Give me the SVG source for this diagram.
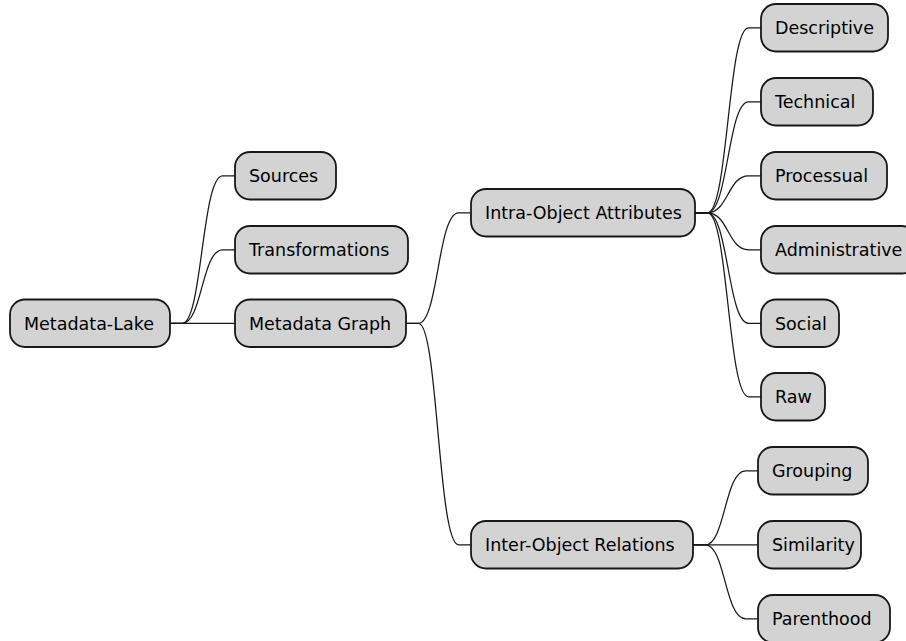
<svg xmlns="http://www.w3.org/2000/svg" width="906" height="641" viewBox="0 0 906 641">
<style>
.n rect{fill:#D3D3D3;stroke:#181818;stroke-width:1.8}
.n text{font-family:"DejaVu Sans",sans-serif;font-size:17.5px;fill:#000}
.c path{fill:none;stroke:#181818;stroke-width:1.25}
</style>
<rect width="906" height="641" fill="#FFFFFF"/>
<g class="c">
<path d="M170,323.25 L182.5,323.25 C202,323.25 202,175.75 222.5,175.75 L235,175.75"/>
<path d="M170,323.25 L182.5,323.25 C202,323.25 202,249.75 222.5,249.75 L235,249.75"/>
<path d="M170,323.25 L235,323.25"/>
<path d="M406,323.25 L418.5,323.25 C438,323.25 438,212.75 458.5,212.75 L471,212.75"/>
<path d="M406,323.25 L418.5,323.25 C438,323.25 438,544.75 458.5,544.75 L471,544.75"/>
<path d="M695,212.75 L707.5,212.75 C728,212.75 728,27.75 748.5,27.75 L761,27.75"/>
<path d="M695,212.75 L707.5,212.75 C728,212.75 728,101.75 748.5,101.75 L761,101.75"/>
<path d="M695,212.75 L707.5,212.75 C728,212.75 728,175.75 748.5,175.75 L761,175.75"/>
<path d="M695,212.75 L707.5,212.75 C728,212.75 728,249.75 748.5,249.75 L761,249.75"/>
<path d="M695,212.75 L707.5,212.75 C728,212.75 728,323.25 748.5,323.25 L761,323.25"/>
<path d="M695,212.75 L707.5,212.75 C728,212.75 728,396.75 748.5,396.75 L761,396.75"/>
<path d="M693,544.75 L705.5,544.75 C725,544.75 725,470.75 745.5,470.75 L758,470.75"/>
<path d="M693,544.75 L758,544.75"/>
<path d="M693,544.75 L705.5,544.75 C725,544.75 725,618.75 745.5,618.75 L758,618.75"/>
</g>
<g id="n-metadata-lake" class="n"><rect x="10" y="299.5" width="160" height="47.5" rx="15"/><text x="24" y="329.6">Metadata-Lake</text></g>
<g id="n-sources" class="n"><rect x="235" y="152" width="101" height="47.5" rx="15"/><text x="249" y="182.1">Sources</text></g>
<g id="n-transformations" class="n"><rect x="235" y="226" width="173" height="47.5" rx="15"/><text x="249" y="256.1">Transformations</text></g>
<g id="n-metadata-graph" class="n"><rect x="235" y="299.5" width="171" height="47.5" rx="15"/><text x="249" y="329.6">Metadata Graph</text></g>
<g id="n-intra" class="n"><rect x="471" y="189" width="224" height="47.5" rx="15"/><text x="485" y="219.1">Intra-Object Attributes</text></g>
<g id="n-inter" class="n"><rect x="471" y="521" width="222" height="47.5" rx="15"/><text x="485" y="551.1">Inter-Object Relations</text></g>
<g id="n-descriptive" class="n"><rect x="761" y="4" width="127" height="47.5" rx="15"/><text x="775" y="34.1">Descriptive</text></g>
<g id="n-technical" class="n"><rect x="761" y="78" width="112" height="47.5" rx="15"/><text x="775" y="108.1">Technical</text></g>
<g id="n-processual" class="n"><rect x="761" y="152" width="126" height="47.5" rx="15"/><text x="775" y="182.1">Processual</text></g>
<g id="n-administrative" class="n"><rect x="761" y="226" width="156" height="47.5" rx="15"/><text x="775" y="256.1">Administrative</text></g>
<g id="n-social" class="n"><rect x="761" y="299.5" width="78" height="47.5" rx="15"/><text x="775" y="329.6">Social</text></g>
<g id="n-raw" class="n"><rect x="761" y="373" width="64" height="47.5" rx="15"/><text x="775" y="403.1">Raw</text></g>
<g id="n-grouping" class="n"><rect x="758" y="447" width="110" height="47.5" rx="15"/><text x="772" y="477.1">Grouping</text></g>
<g id="n-similarity" class="n"><rect x="758" y="521" width="103" height="47.5" rx="15"/><text x="772" y="551.1">Similarity</text></g>
<g id="n-parenthood" class="n"><rect x="758" y="595" width="132" height="47.5" rx="15"/><text x="772" y="625.1">Parenthood</text></g>
</svg>
